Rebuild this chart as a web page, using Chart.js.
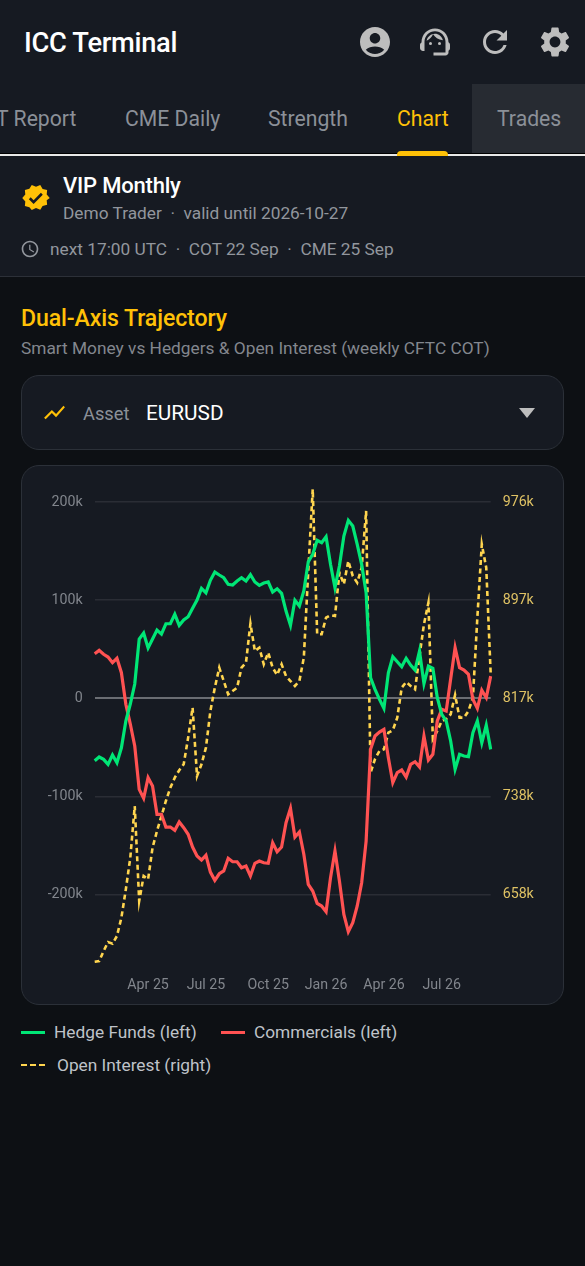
<!DOCTYPE html>
<html><head><meta charset="utf-8">
<script src="https://cdn.jsdelivr.net/npm/chart.js@4"></script>
<style>
html,body{margin:0;padding:0;background:#0d1014;width:585px;height:1266px;overflow:hidden;font-family:Roboto,sans-serif}
.a{position:absolute;white-space:nowrap;line-height:1}
#top{position:absolute;left:0;top:0;width:585px;height:276px;background:#161a22;border-bottom:1px solid #2c3038}
#tabline{position:absolute;left:0;top:154px;width:585px;height:2px;background:#e8e8e8}
#tabdark{position:absolute;left:0;top:153px;width:585px;height:1px;background:#000}
#trades{position:absolute;left:472px;top:84px;width:113px;height:69px;background:#272b32}
#ind{position:absolute;left:397px;top:151px;width:51px;height:5px;background:#ffc107;border-radius:4px 4px 0 0}
.tab{font-size:21.2px;color:#8b9098;top:108px}
.grey{color:#92969d;font-size:17.3px}
#box{position:absolute;left:21px;top:375px;width:541px;height:73px;border:1px solid #2b3038;border-radius:18px;background:#161a22}
#card{position:absolute;left:21px;top:465px;width:541px;height:538px;border:1px solid #2b3038;border-radius:18px;background:#161a22}
#card canvas{position:absolute;left:0;top:0}
svg{position:absolute}
.leg{position:absolute;font-size:17.3px;color:#bfc3c9;line-height:1;white-space:nowrap}
.sw{position:absolute;width:24px;height:0}
</style></head><body>
<div id="top"></div>
<div class="a" style="left:24px;top:30px;font-size:27.3px;font-weight:500;color:#fff;letter-spacing:-.3px">ICC Terminal</div>
<svg style="left:357px;top:24px" width="36" height="36" viewBox="0 0 24 24" fill="#bdbdbd"><path d="M12 2C6.48 2 2 6.48 2 12s4.48 10 10 10 10-4.48 10-10S17.52 2 12 2zm0 4c1.93 0 3.5 1.57 3.5 3.5S13.93 13 12 13s-3.5-1.57-3.5-3.5S10.07 6 12 6zm0 14c-2.03 0-4.43-.82-6.14-2.88C7.55 15.8 9.68 15 12 15s4.45.8 6.14 2.12C16.43 19.18 14.03 20 12 20z"/></svg>
<svg style="left:417px;top:24px" width="36" height="36" viewBox="0 0 24 24" fill="#bdbdbd"><path d="M21 12.22C21 6.73 16.74 3 12 3c-4.69 0-9 3.65-9 9.28-.6.34-1 .98-1 1.72v2c0 1.1.9 2 2 2h1v-6.1c0-3.87 3.13-7 7-7s7 3.13 7 7V19h-8v2h8c1.1 0 2-.9 2-2v-1.22c.59-.31 1-.92 1-1.64v-2.3c0-.7-.41-1.31-1-1.62z"/><circle cx="9" cy="13" r="1"/><circle cx="15" cy="13" r="1"/><path d="M12 6.5c-2.6 0-5 1.9-5.6 4.6 2-.9 3.5-2.4 4.3-4.2 1.2 2 3.5 3.6 6.6 3.9C16.500 8.300 14.400 6.500 12 6.500z"/></svg>
<svg style="left:477px;top:24px" width="36" height="36" viewBox="0 0 24 24" fill="#bdbdbd"><path d="M17.65 6.35C16.2 4.9 14.21 4 12 4c-4.42 0-7.99 3.58-7.99 8s3.57 8 7.99 8c3.73 0 6.84-2.55 7.73-6h-2.08c-.82 2.33-3.04 4-5.65 4-3.31 0-6-2.69-6-6s2.69-6 6-6c1.66 0 3.14.69 4.22 1.78L13 11h7V4l-2.35 2.35z"/></svg>
<svg style="left:537px;top:24px" width="36" height="36" viewBox="0 0 24 24" fill="#bdbdbd"><path d="M19.14 12.94c.04-.3.06-.61.06-.94 0-.32-.02-.64-.07-.94l2.03-1.58c.18-.14.23-.41.12-.61l-1.92-3.32c-.12-.22-.37-.29-.59-.22l-2.39.96c-.5-.38-1.03-.7-1.62-.94l-.36-2.54c-.04-.24-.24-.41-.48-.41h-3.84c-.24 0-.43.17-.47.41l-.36 2.54c-.59.24-1.13.57-1.62.94l-2.39-.96c-.22-.08-.47 0-.59.22L2.74 8.87c-.12.21-.08.47.12.61l2.03 1.58c-.05.3-.09.63-.09.94s.02.64.07.94l-2.03 1.58c-.18.14-.23.41-.12.61l1.92 3.32c.12.22.37.29.59.22l2.39-.96c.5.38 1.03.7 1.62.94l.36 2.54c.05.24.24.41.48.41h3.84c.24 0 .44-.17.47-.41l.36-2.54c.59-.24 1.13-.56 1.62-.94l2.39.96c.22.08.47 0 .59-.22l1.92-3.32c.12-.22.07-.47-.12-.61l-2.01-1.58zM12 15.6c-1.98 0-3.6-1.62-3.6-3.6s1.62-3.6 3.6-3.6 3.6 1.62 3.6 3.6-1.62 3.6-3.6 3.6z"/></svg>
<div id="trades"></div>
<div class="a tab" style="left:-32px">COT Report</div>
<div class="a tab" style="left:125px">CME Daily</div>
<div class="a tab" style="left:268px">Strength</div>
<div class="a tab" style="left:397px;color:#ffc107">Chart</div>
<div class="a tab" style="left:497px">Trades</div>
<div id="tabdark"></div><div id="tabline"></div><div id="ind"></div>
<svg style="left:21px;top:183px" width="30" height="30" viewBox="0 0 24 24"><path fill="#ffc107" d="M23 12l-2.44-2.79.34-3.69-3.61-.82-1.89-3.2L12 2.96 8.6 1.5 6.71 4.69 3.1 5.5l.34 3.7L1 12l2.44 2.79-.34 3.7 3.61.82L8.6 21.5l3.4-1.47 3.4 1.46 1.89-3.19 3.61-.82-.34-3.69L23 12z"/><path fill="#161a22" d="M10.09 16.72l-3.8-3.81 1.48-1.48 2.32 2.33 5.85-5.87 1.48 1.48-7.33 7.35z"/></svg>
<div class="a" style="left:63px;top:175px;font-size:22px;font-weight:500;color:#fff;letter-spacing:-.2px">VIP Monthly</div>
<div class="a grey" style="left:63px;top:205px">Demo Trader &nbsp;·&nbsp; valid until 2026-10-27</div>
<svg style="left:20px;top:239px" width="20" height="20" viewBox="0 0 24 24" fill="#92969d"><path d="M11.99 2C6.47 2 2 6.48 2 12s4.47 10 9.99 10C17.52 22 22 17.52 22 12S17.52 2 11.99 2zM12 20c-4.42 0-8-3.58-8-8s3.58-8 8-8 8 3.58 8 8-3.58 8-8 8zm.5-13H11v6l5.25 3.15.75-1.23-4.5-2.67z"/></svg>
<div class="a grey" style="left:50px;top:241px">next 17:00 UTC &nbsp;·&nbsp; COT 22 Sep &nbsp;·&nbsp; CME 25 Sep</div>
<div class="a" style="left:21px;top:307px;font-size:23.1px;font-weight:500;color:#ffc107;letter-spacing:-.1px">Dual-Axis Trajectory</div>
<div class="a" style="left:21px;top:340px;font-size:17.3px;color:#83878e">Smart Money vs Hedgers &amp; Open Interest (weekly CFTC COT)</div>
<div id="box"></div>
<svg style="left:42px;top:400px" width="25" height="25" viewBox="0 0 24 24" fill="#ffc107"><path d="M3.5 18.49l6-6.01 4 4L22 6.92l-1.41-1.41-7.09 7.97-4-4L2 16.99z"/></svg>
<div class="a" style="left:83px;top:405px;font-size:18.300px;color:#8b9098">Asset</div>
<div class="a" style="left:146px;top:403px;font-size:20.8px;color:#fff">EURUSD</div>
<svg style="left:519px;top:408px" width="16" height="10" viewBox="0 0 16 10" fill="#bdbdbd"><path d="M0 0h16l-8 10z"/></svg>
<div id="card"><canvas id="c" width="541" height="538" style="width:541px;height:538px"></canvas></div>
<div id="legend"></div>
<script>
const weeks=["2025-01-07","2025-01-14","2025-01-21","2025-01-28","2025-02-04","2025-02-11","2025-02-18","2025-02-25","2025-03-04","2025-03-11","2025-03-18","2025-03-25","2025-04-01","2025-04-08","2025-04-15","2025-04-22","2025-04-29","2025-05-06","2025-05-13","2025-05-20","2025-05-27","2025-06-03","2025-06-10","2025-06-17","2025-06-24","2025-07-01","2025-07-08","2025-07-15","2025-07-22","2025-07-29","2025-08-05","2025-08-12","2025-08-19","2025-08-26","2025-09-02","2025-09-09","2025-09-16","2025-09-23","2025-09-30","2025-10-07","2025-10-14","2025-10-21","2025-10-28","2025-11-04","2025-11-11","2025-11-18","2025-11-25","2025-12-02","2025-12-09","2025-12-16","2025-12-23","2025-12-30","2026-01-06","2026-01-13","2026-01-20","2026-01-27","2026-02-03","2026-02-10","2026-02-17","2026-02-24","2026-03-03","2026-03-10","2026-03-17","2026-03-24","2026-03-31","2026-04-07","2026-04-14","2026-04-21","2026-04-28","2026-05-05","2026-05-12","2026-05-19","2026-05-26","2026-06-02","2026-06-09","2026-06-16","2026-06-23","2026-06-30","2026-07-07","2026-07-14","2026-07-21","2026-07-28","2026-08-04","2026-08-11","2026-08-18","2026-08-25","2026-09-01","2026-09-08","2026-09-15","2026-09-22"];
const quarterDates=["2025-04-01","2025-07-01","2025-10-07","2026-01-06","2026-04-07","2026-07-07"];
const quarterLabels=["Apr 25","Jul 25","Oct 25","Jan 26","Apr 26","Jul 26"];
const hedgeFunds=[-63.6,-59.8,-62.2,-67.3,-57.8,-65.6,-50.4,-23.1,-5.8,14.6,60.4,66.6,51.3,60.4,69.6,65.5,76,76,85.6,74.4,79.8,83.2,91.7,100.2,112.1,107.6,120.3,128.7,125.7,122.9,116.2,115.5,119.6,122.9,119.6,126,118.6,115.2,117.5,118.6,108.4,111.7,107,89,74.4,99.9,94.1,109.4,139.2,146.8,161,158.6,164.7,136.6,112.7,134.9,165.4,181.4,175.6,157,136.6,107.6,21,9.2,-1,-10.2,26.1,42.4,37.3,32.2,40.8,33.9,28.8,48.2,14.9,32.9,30.6,0.6,-16.3,-23.1,-43.5,-72.4,-57.1,-58.8,-59.5,-35.1,-23.1,-45.3,-27.5,-52];
const commercials=[45.5,48.9,44.9,42.1,36.3,40.8,26.1,-6.1,-26.2,-48.6,-92.8,-101.9,-80.9,-89.4,-118.2,-118.2,-131.2,-131.2,-134.6,-126.1,-131.9,-138.6,-151.6,-160.8,-164.8,-160,-177.1,-185.5,-178.8,-176,-163.1,-166.6,-166.6,-172.7,-170.9,-181.1,-168.2,-165.9,-167.6,-168.2,-147.2,-156.4,-151.6,-126.8,-112.1,-141.4,-136.3,-159,-189.6,-196.4,-209,-211.7,-217.5,-182.9,-155.7,-186.2,-220.2,-237.9,-228.7,-211.7,-188,-145.5,-52,-38.4,-34.4,-31.6,-60.6,-86,-75.8,-73.1,-80.2,-67.3,-64.6,-70,-38.4,-62.9,-57.1,-23.1,-11.2,-12.9,19.7,51.6,31.2,28.8,24.5,-1,-10.2,8.2,0.6,22.7];
const openInterest=[603.5,604,612.2,619.5,618.1,624.4,639.2,662.2,687.8,729.7,652.7,673,670.3,695.9,709.5,721.6,733.8,744.5,752.7,758.7,763.5,785.1,809.4,754,763.5,777,806.7,825.6,841.8,831,820.2,822.9,825.6,841.8,845.9,877.5,855.3,858,844.6,854,841.8,835.9,844.6,835,831,827,831,849.9,920.2,986.4,868.9,868.9,882.3,884.3,883.7,918.8,909.4,928.3,916.1,910.7,922.8,968.8,756.7,767.8,774.3,775.7,789.1,791.1,801.3,825.6,830.2,827,824.3,851.3,877,894.5,784,790.5,798.6,800.2,804,819.7,801.3,801.3,806.7,817.5,882.3,941.8,922.8,836.7];
const leftTicks=[-200,-100,0,100,200];
const rightTicks=[658,737.5,817,896.5,976];
const leftRange=[-269.8,214.4];
const rightRange=[602.5,987.4];
const seriesNames=["Hedge Funds (left)","Commercials (left)","Open Interest (right)"];
const seriesColors=["#00e676","#ff5252","#ffd54f"];

const k=a=>a.map(v=>v*1000);
const chart=new Chart(document.getElementById('c'),{
 type:'line',
 data:{labels:weeks,datasets:[
  {label:seriesNames[0],data:k(hedgeFunds),borderColor:seriesColors[0],yAxisID:'y',borderWidth:3.2,pointRadius:0,tension:0},
  {label:seriesNames[1],data:k(commercials),borderColor:seriesColors[1],yAxisID:'y',borderWidth:3.2,pointRadius:0,tension:0},
  {label:seriesNames[2],data:k(openInterest),borderColor:seriesColors[2],yAxisID:'y1',borderWidth:2.6,borderDash:[5,3.5],pointRadius:0,tension:0}
 ]},
 options:{responsive:false,animation:false,devicePixelRatio:1,
  layout:{padding:{top:22,bottom:0,left:0,right:0}},
  plugins:{legend:{display:false},tooltip:{enabled:false}},
  scales:{
   x:{grid:{display:false},border:{display:false},
      afterFit:s=>{s.height=41},
      ticks:{autoSkip:false,maxRotation:0,minRotation:0,padding:6,color:'#82868d',font:{family:'Roboto',size:14.2},
        callback(v){const i=quarterDates.indexOf(this.getLabelForValue(v));return i<0?'':quarterLabels[i]}}},
   y:{position:'left',min:leftRange[0]*1000,max:leftRange[1]*1000,border:{display:false},
      afterFit:s=>{s.width=72.7},
      afterBuildTicks:s=>{s.ticks=k(leftTicks).map(value=>({value}))},
      grid:{drawTicks:false,lineWidth:c=>c.tick&&c.tick.value===0?2:1.5,color:c=>c.tick&&c.tick.value===0?'#6a6d73':'#2a2d35'},
      ticks:{padding:12,color:'#82868d',font:{family:'Roboto',size:14.2},callback:v=>v===0?'0':(v/1000)+'k'}},
   y1:{position:'right',min:rightRange[0]*1000,max:rightRange[1]*1000,border:{display:false},
      afterFit:s=>{s.width=72.3},
      afterBuildTicks:s=>{s.ticks=k(rightTicks).map(value=>({value}))},
      grid:{display:false,drawTicks:false},
      ticks:{padding:12,color:'#dfc264',font:{family:'Roboto',size:14.2},callback:v=>Math.round(v/1000)+'k'}}
  }}
});
const lg=document.getElementById('legend');
const legPos=[[21,1032,54],[221,1032,254],[21,1065,57]];
chart.data.datasets.forEach((d,i)=>{
 const [sx,y,tx]=legPos[i];
 const s=document.createElement('div');s.className='sw';s.style.left=sx+'px';s.style.top=(y-1.5)+'px';
 s.style.borderTop=(i==2?'2.5px dashed ':'3.5px solid ')+d.borderColor;lg.appendChild(s);
 const t=document.createElement('div');t.className='leg';t.style.left=tx+'px';t.style.top=(y-8)+'px';t.textContent=d.label;lg.appendChild(t);
});
</script></body></html>
